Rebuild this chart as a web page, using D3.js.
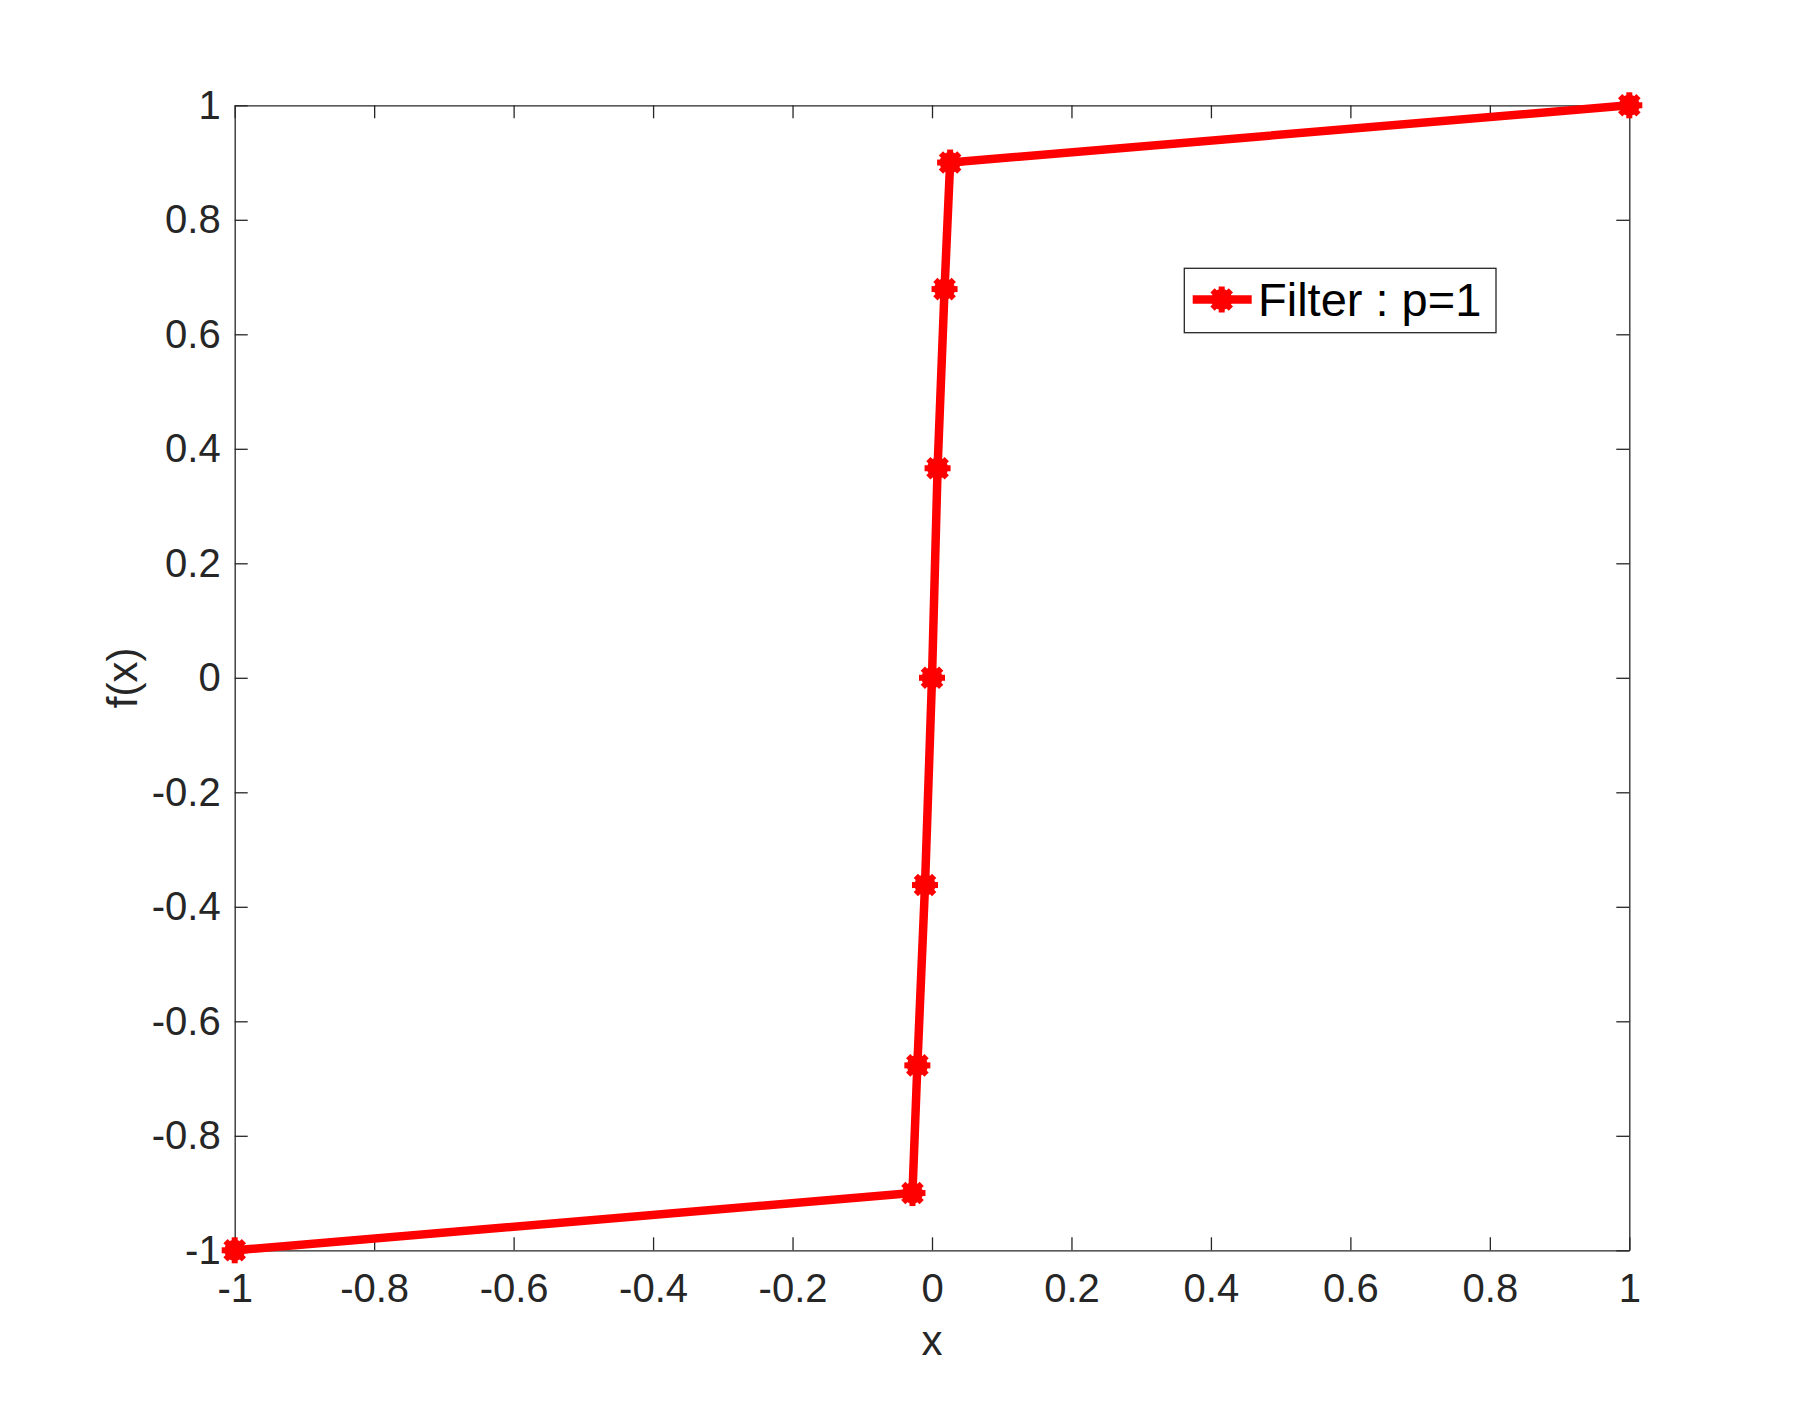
<!DOCTYPE html>
<html>
<head>
<meta charset="utf-8">
<script src="https://cdn.jsdelivr.net/npm/d3@7"></script>
<style>
  body { margin: 0; background: #fff; }
  svg { display: block; font-family: "Liberation Sans", Arial, Helvetica, sans-serif; }
</style>
</head>
<body>
<svg width="1800" height="1404"></svg>
<script>
// values
const xValues = [-1, -0.028, -0.021, -0.01, 0, 0.008, 0.018, 0.026, 1];
const yValues = [-1, -0.9, -0.677, -0.362, 0, 0.366, 0.679, 0.9, 1];
const xTicks = [-1, -0.8, -0.6, -0.4, -0.2, 0, 0.2, 0.4, 0.6, 0.8, 1];
const yTicks = [-1, -0.8, -0.6, -0.4, -0.2, 0, 0.2, 0.4, 0.6, 0.8, 1];
const seriesName = "Filter : p=1";

const points = xValues.map((x, i) => ({ x: x, y: yValues[i] }));

const svg = d3.select("svg");
const ink = "#262626";
const red = "#ff0000";

const plotLeft = 234.7, plotRight = 1629.3, plotTop = 105.3, plotBottom = 1250.3;

const x = d3.scaleLinear().domain([-1, 1]).range([plotLeft, plotRight]);
const y = d3.scaleLinear().domain([-1, 1]).range([plotBottom, plotTop]);

svg.append("rect").attr("width", 1800).attr("height", 1404).attr("fill", "#fff");

// axes, ticks pointing inwards like matlab
function styleAxis(g) {
    g.selectAll("path, line").attr("stroke", ink).attr("stroke-width", 1.3);
    g.selectAll("text").attr("fill", ink).attr("font-size", 40);
}

svg.append("g")
    .attr("transform", `translate(0,${plotBottom})`)
    .call(d3.axisBottom(x).tickValues(xTicks).tickFormat(d => String(d))
        .tickSizeInner(-13).tickSizeOuter(0).tickPadding(23))
    .call(styleAxis);

svg.append("g")
    .attr("transform", `translate(${plotLeft},0)`)
    .call(d3.axisLeft(y).tickValues(yTicks).tickFormat(d => String(d))
        .tickSizeInner(-13).tickSizeOuter(0).tickPadding(14))
    .call(styleAxis);

svg.append("g")
    .attr("transform", `translate(0,${plotTop})`)
    .call(d3.axisTop(x).tickValues(xTicks).tickFormat("")
        .tickSizeInner(-13).tickSizeOuter(0))
    .call(styleAxis);

svg.append("g")
    .attr("transform", `translate(${plotRight},0)`)
    .call(d3.axisRight(y).tickValues(yTicks).tickFormat("")
        .tickSizeInner(-13).tickSizeOuter(0))
    .call(styleAxis);

svg.selectAll(".domain").attr("fill", "none");

// axis labels
svg.append("text")
    .attr("x", x(0)).attr("y", 1355)
    .attr("text-anchor", "middle")
    .attr("font-size", 42).attr("fill", ink)
    .text("x");

svg.append("text")
    .attr("transform", `translate(137,${y(0)}) rotate(-90)`)
    .attr("text-anchor", "middle")
    .attr("font-size", 42).attr("fill", ink)
    .text("f(x)");

// asterisk marker drawn as a thick gear-like star
function asterisk(g, cx, cy) {
    const r = 13;
    const m = g.append("g").attr("transform", `translate(${cx},${cy})`);
    [0, 45, 90, 135].forEach(a => {
        const t = a * Math.PI / 180;
        m.append("line")
            .attr("x1", -r * Math.cos(t)).attr("y1", -r * Math.sin(t))
            .attr("x2", r * Math.cos(t)).attr("y2", r * Math.sin(t))
            .attr("stroke", red).attr("stroke-width", 6);
    });
    m.append("circle").attr("r", 10.5).attr("fill", red);
}

const line = d3.line().x(d => x(d.x)).y(d => y(d.y));

svg.append("path")
    .datum(points)
    .attr("d", line)
    .attr("fill", "none")
    .attr("stroke", red)
    .attr("stroke-width", 8.5)
    .attr("stroke-linejoin", "round");

const markers = svg.append("g");
points.forEach(p => asterisk(markers, x(p.x), y(p.y)));

// legend
const legend = svg.append("g");
legend.append("rect")
    .attr("x", 1184.3).attr("y", 268.3)
    .attr("width", 311.7).attr("height", 64.4)
    .attr("fill", "#fff").attr("stroke", ink).attr("stroke-width", 1.3);
legend.append("line")
    .attr("x1", 1192.7).attr("x2", 1251.7)
    .attr("y1", 299.5).attr("y2", 299.5)
    .attr("stroke", red).attr("stroke-width", 8.5);
asterisk(legend, 1221.7, 299.5);
legend.append("text")
    .attr("x", 1258).attr("y", 299.5)
    .attr("dy", "0.36em")
    .attr("font-size", 47).attr("fill", "#000")
    .text(seriesName);
</script>
</body>
</html>
